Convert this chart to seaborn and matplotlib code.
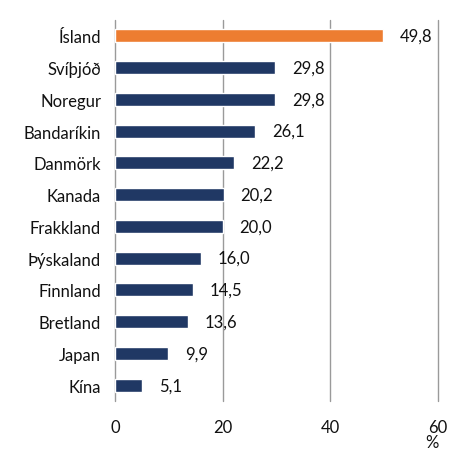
import pandas as pd
import matplotlib.pyplot as plt
import seaborn as sns

# Values (%)
countries = ["Ísland", "Svíþjóð", "Noregur", "Bandaríkin", "Danmörk", "Kanada",
             "Frakkland", "Þýskaland", "Finnland", "Bretland", "Japan", "Kína"]
values = [49.8, 29.8, 29.8, 26.1, 22.2, 20.2, 20.0, 16.0, 14.5, 13.6, 9.9, 5.1]
highlight = "Ísland"

df = pd.DataFrame({"land": countries, "gildi": values})
palette = {c: ("#ED7D31" if c == highlight else "#203864") for c in countries}

sns.set_style("white")
plt.rcParams["font.family"] = ["Lato", "DejaVu Sans"]
fs = 12

fig = plt.figure(figsize=(4.59, 4.52), dpi=100)
ax = fig.add_axes([0.2505, 0.1106, 0.7035, 0.843])

sns.barplot(data=df, x="gildi", y="land", hue="land", palette=palette,
            order=countries, width=0.41, legend=False, saturation=1, ax=ax)

for cont in ax.containers:
    ax.bar_label(cont, labels=[f"{v:.1f}".replace(".", ",") for v in cont.datavalues],
                 padding=12, fontsize=fs, color="#111111")

ax.set_xlim(0, 60)
ax.set_ylim(11.5, -0.5)
ax.set_xticks([0, 20, 40, 60])
ax.grid(axis="x", color="#9a9a9a", linewidth=1)
for gl in ax.get_xgridlines():
    gl.set_clip_on(False)
ax.set_axisbelow(True)
for s in ax.spines.values():
    s.set_visible(False)
ax.tick_params(axis="both", length=0, labelsize=fs, colors="#111111")
ax.tick_params(axis="x", pad=13)
ax.tick_params(axis="y", pad=10)
ax.set_xlabel("")
ax.set_ylabel("")
fig.text(0.941, 0.002, "%", fontsize=fs, ha="center", va="bottom", color="#111111")

fig.savefig("out.png", dpi=100)
